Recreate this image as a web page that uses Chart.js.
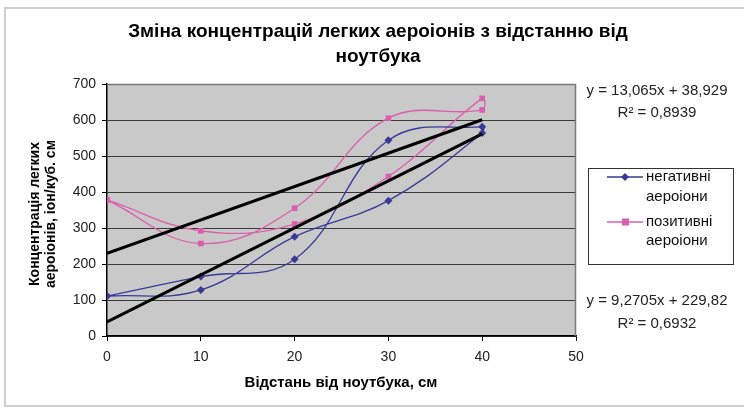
<!DOCTYPE html>
<html><head><meta charset="utf-8">
<script src="https://cdn.jsdelivr.net/npm/chart.js@4.4.0/dist/chart.umd.min.js"></script>
<style>html,body{margin:0;padding:0;background:#fff}#wrap{width:744px;height:409px;position:relative}</style>
</head><body><div id="wrap"><canvas id="c" width="744" height="409"></canvas></div>
<script>
// Data (each series is a loop 0→40→0 as in the source)
const negX = [0, 10, 20, 30, 40, 40, 30, 20, 10, 0];
const negY = [111, 128, 276, 376, 564, 581, 544, 213, 165, 111];
const posX = [0, 10, 20, 30, 40, 40, 30, 20, 10, 0];
const posY = [378, 257, 355, 605, 628, 660, 443, 311, 292, 378];
// Trendline endpoints (from the printed equations)
const trendX = [0, 40];
const trendNegY = [38.9, 561.5];
const trendPosY = [229.8, 600.6];
const xTicks = [0, 10, 20, 30, 40, 50];
const yTicks = [0, 100, 200, 300, 400, 500, 600, 700];

const titleLines = ['Зміна концентрацій легких аероіонів з відстанню від', 'ноутбука'];
const yTitle = ['Концентрація легких', 'аероіонів, іон/куб. см'];
const xTitle = 'Відстань від ноутбука, см';
const legendLabels = [['негативні', 'аероіони'], ['позитивні', 'аероіони']];
const eqNeg = ['y = 13,065x + 38,929', 'R² = 0,8939'];
const eqPos = ['y = 9,2705x + 229,82', 'R² = 0,6932'];

const BLUE = '#3a3a96';
const PINK = '#dc5fae';
const FONT = '"Liberation Sans", Arial, sans-serif';

const pts = (xs, ys) => xs.map((x, i) => ({x, y: ys[i]}));

const decor = {
  id: 'decor',
  beforeDraw(chart) {
    const ctx = chart.ctx, a = chart.chartArea;
    ctx.save();
    ctx.fillStyle = '#fff';
    ctx.fillRect(0, 0, chart.width, chart.height);
    ctx.strokeStyle = '#cfcfcf';
    ctx.lineWidth = 2;
    ctx.strokeRect(5, 8, 800, 398);
    ctx.fillStyle = '#c9c9c9';
    ctx.fillRect(a.left, a.top, a.right - a.left, a.bottom - a.top);
    ctx.restore();
  },
  afterDraw(chart) {
    const ctx = chart.ctx, a = chart.chartArea;
    ctx.save();
    ctx.strokeStyle = '#7a7a7a';
    ctx.lineWidth = 1.5;
    ctx.beginPath();
    ctx.moveTo(a.left, a.top + 0.5); ctx.lineTo(a.right - 0.5, a.top + 0.5); ctx.lineTo(a.right - 0.5, a.bottom);
    ctx.stroke();
    // title
    ctx.fillStyle = '#000';
    ctx.textAlign = 'center';
    ctx.textBaseline = 'middle';
    ctx.font = 'bold 19px ' + FONT;
    ctx.fillText(titleLines[0], 378, 32);
    ctx.fillText(titleLines[1], 378, 57);
    // x title
    ctx.font = 'bold 15px ' + FONT;
    ctx.fillText(xTitle, 341, 383);
    // y title
    ctx.save();
    ctx.translate(35, 214);
    ctx.rotate(-Math.PI / 2);
    ctx.font = 'bold 14px ' + FONT;
    ctx.fillText(yTitle[0], 0, 0);
    ctx.fillText(yTitle[1], 0, 16);
    ctx.restore();
    // equations
    ctx.font = '15px ' + FONT;
    ctx.fillStyle = '#222';
    ctx.fillText(eqNeg[0], 657, 91);
    ctx.fillText(eqNeg[1], 657, 113);
    ctx.fillText(eqPos[0], 657, 301);
    ctx.fillText(eqPos[1], 657, 324);
    // legend
    ctx.fillStyle = '#fff';
    ctx.fillRect(588, 168, 145, 96);
    ctx.strokeStyle = '#333';
    ctx.lineWidth = 1;
    ctx.strokeRect(588.5, 168.5, 145, 96);
    const rows = [[177, 197, BLUE, 'd'], [222, 241, PINK, 's']];
    ctx.textAlign = 'left';
    ctx.font = '15px ' + FONT;
    rows.forEach((r, i) => {
      ctx.strokeStyle = r[2];
      ctx.lineWidth = 1.5;
      ctx.beginPath(); ctx.moveTo(607, r[0]); ctx.lineTo(643, r[0]); ctx.stroke();
      ctx.fillStyle = r[2];
      if (r[3] === 'd') {
        ctx.beginPath(); ctx.moveTo(625, r[0] - 4); ctx.lineTo(629, r[0]); ctx.lineTo(625, r[0] + 4); ctx.lineTo(621, r[0]); ctx.closePath(); ctx.fill();
      } else {
        ctx.fillRect(622, r[0] - 3.5, 7, 7);
      }
      ctx.fillStyle = '#111';
      ctx.fillText(legendLabels[i][0], 646, r[0]);
      ctx.fillText(legendLabels[i][1], 646, r[1]);
    });
    ctx.restore();
  }
};

new Chart(document.getElementById('c'), {
  type: 'scatter',
  data: {
    datasets: [
      {label: 'trendNeg', data: pts(trendX, trendNegY), showLine: true, borderColor: '#000', borderWidth: 3, pointRadius: 0, tension: 0},
      {label: 'trendPos', data: pts(trendX, trendPosY), showLine: true, borderColor: '#000', borderWidth: 3, pointRadius: 0, tension: 0},
      {label: 'негативні аероіони', data: pts(negX, negY), showLine: true, borderColor: BLUE, backgroundColor: BLUE, borderWidth: 1.3, tension: 0.4, pointStyle: 'rectRot', pointRadius: 4, pointBorderWidth: 0},
      {label: 'позитивні аероіони', data: pts(posX, posY), showLine: true, borderColor: PINK, backgroundColor: PINK, borderWidth: 1.3, tension: 0.4, pointStyle: 'rect', pointRadius: 4, pointBorderWidth: 0}
    ]
  },
  options: {
    responsive: false,
    animation: false,
    layout: {padding: {left: 0, right: 168, top: 84, bottom: 0}},
    plugins: {legend: {display: false}, title: {display: false}, tooltip: {enabled: false}},
    scales: {
      x: {
        type: 'linear', min: 0, max: 50,
        afterBuildTicks(s) { s.ticks = xTicks.map(v => ({value: v})); },
        afterFit(s) { s.height = 73; },
        grid: {drawOnChartArea: false, drawTicks: true, tickLength: 5, color: '#000', tickColor: '#000'},
        border: {color: '#000', width: 1.5},
        ticks: {color: '#222', font: {family: FONT, size: 14}, padding: 8}
      },
      y: {
        type: 'linear', min: 0, max: 700,
        afterBuildTicks(s) { s.ticks = yTicks.map(v => ({value: v})); },
        afterFit(s) { s.width = 107; },
        grid: {drawOnChartArea: true, drawTicks: true, tickLength: 5, color: '#3a3a3a', lineWidth: 1, tickColor: '#000'},
        border: {color: '#000', width: 1.5},
        ticks: {color: '#222', font: {family: FONT, size: 14}, padding: 6}
      }
    }
  },
  plugins: [decor]
});
</script></body></html>
